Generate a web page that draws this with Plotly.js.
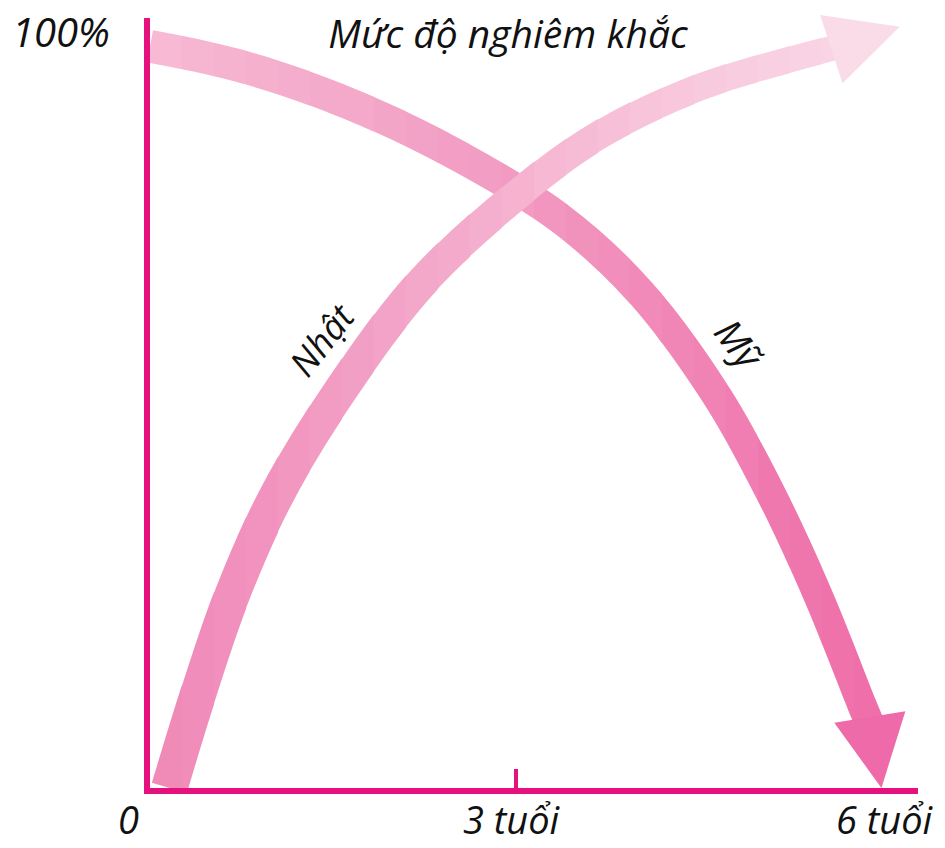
<!DOCTYPE html>
<html>
<head>
<meta charset="utf-8">
<script src="https://cdn.plot.ly/plotly-3.0.1.min.js"></script>
<style>html,body{margin:0;padding:0;background:#fff;}#chart{width:945px;height:848px;}</style>
</head>
<body>
<div id="chart"></div>
<script>
// ---- data ----
const chartTitle = 'Mức độ nghiêm khắc';
const seriesNames = ['Mỹ', 'Nhật'];
// Mỹ (USA): strictness (% of max) vs. child age (years)
const usAges     = [0, 0.74, 1.56, 2.38, 3.36, 4.02, 4.66, 5.11, 5.49, 5.84, 5.92];
const usSeverity = [98.1, 95.5, 91.0, 84.9, 75.4, 65.6, 51.6, 38.4, 25.1, 11.0, 7.9];
const usTip      = [6.0, 0];          // arrow tip (age, %)
// Nhật (Japan)
const jpAges     = [0.16, 0.38, 0.66, 1.02, 1.51, 2.25, 3.16, 3.69, 4.51, 5.33, 5.64];
const jpSeverity = [0, 11.6, 24.9, 38.1, 51.3, 67.2, 80.4, 86.4, 92.7, 96.7, 98.0];
const jpTip      = [6.15, 100.7];
// axis labels
const xTickAges   = [0, 3, 6];
const xTickLabels = ['0', '3 tuổi', '6 tuổi'];
const yTickValue  = 100;
const yTickLabel  = '100%';
// series label anchor points (age, %)
const seriesLabelAge = [4.84, 1.41];
const seriesLabelSev = [58.7, 59.3];

// ---- styling ----
const AXIS = '#e5117f';
const FONT = {family: '"Open Sans", "Noto Sans", sans-serif', size: 36, color: '#111111', style: 'italic'};
const X_MAX = 6.3, Y_MAX = 101.85;
const N_SLICES = 24;           // colour bands along the x axis (gradient)
const usColorStops = [[0,'#f7bad4'],[1.5,'#f4aacb'],[3,'#f29ac2'],[4.5,'#f084b5'],[5.5,'#ef73ac'],[6.3,'#ee6ba8']];
const jpColorStops = [[0,'#f088b6'],[1,'#f194bf'],[2,'#f3a3c7'],[3,'#f5b3d0'],[4,'#f7c3da'],[5,'#f9cfe1'],[6.3,'#fadbe8']];
const usWidthStops = [[0,33],[6.3,29]];
const jpWidthStops = [[0,37],[2,33],[4,28],[6.3,24]];

function hexToRgb(h){h=h.replace('#','');return [0,2,4].map(i=>parseInt(h.substr(i,2),16));}
function interpStops(stops, a, isColor){
  let i=0; while(i<stops.length-2 && a>stops[i+1][0]) i++;
  const [a0,v0]=stops[i],[a1,v1]=stops[i+1];
  const t=Math.max(0,Math.min(1,(a-a0)/(a1-a0)));
  if(!isColor) return v0+(v1-v0)*t;
  const A=hexToRgb(v0),B=hexToRgb(v1);
  return 'rgb('+A.map((v,j)=>Math.round(v+(B[j]-v)*t)).join(',')+')';
}

const traces = [{type:'scatter', x:[], y:[], xaxis:'x', yaxis:'y', hoverinfo:'skip', showlegend:false}];
const layout = {
  width:945, height:848,
  margin:{l:150, r:27, t:18, b:60, pad:0},
  paper_bgcolor:'#ffffff', plot_bgcolor:'rgba(0,0,0,0)',
  showlegend:false,
  title:{text:chartTitle, font:Object.assign({},FONT,{size:39}), x:508/945, xanchor:'center', y:1-34/848, yanchor:'middle', xref:'container', yref:'container'},
  xaxis:{range:[0,X_MAX], showline:true, linecolor:AXIS, linewidth:6, showgrid:false, zeroline:false,
    ticks:'inside', tickvals:[xTickAges[1]], ticklen:19, tickwidth:4, tickcolor:AXIS, showticklabels:false, fixedrange:true},
  yaxis:{range:[0,Y_MAX], showline:true, linecolor:AXIS, linewidth:6, showgrid:false, zeroline:false,
    ticks:'', showticklabels:false, fixedrange:true}
};

// each slice is an invisible x axis covering part of the plot: the full smooth curve is drawn
// in every slice (clipped to it), coloured for that slice -> gradient along the band
for(let k=0;k<N_SLICES;k++){
  const id = k+2;
  const r0 = k*X_MAX/N_SLICES, r1 = (k+1)*X_MAX/N_SLICES, mid=(r0+r1)/2;
  layout['xaxis'+id] = {domain:[k/N_SLICES,(k+1)/N_SLICES], range:[r0,r1], anchor:'y', visible:false, fixedrange:true, showgrid:false, zeroline:false};
  traces.push({type:'scatter', mode:'lines', x:usAges, y:usSeverity, xaxis:'x'+id, yaxis:'y',
    line:{shape:'spline', smoothing:1, color:interpStops(usColorStops,mid,true), width:interpStops(usWidthStops,mid,false)},
    hoverinfo:'skip', showlegend:false});
}
for(let k=0;k<N_SLICES;k++){
  const id = k+2;
  const r0 = k*X_MAX/N_SLICES, r1 = (k+1)*X_MAX/N_SLICES, mid=(r0+r1)/2;
  traces.push({type:'scatter', mode:'lines', x:jpAges, y:jpSeverity, xaxis:'x'+id, yaxis:'y',
    line:{shape:'spline', smoothing:1, color:interpStops(jpColorStops,mid,true), width:interpStops(jpWidthStops,mid,false)},
    hoverinfo:'skip', showlegend:false});
}

const annotations = [];
function head(ages, sev, tip, color){
  annotations.push({
    x: tip[0], y: tip[1], xref:'x', yref:'y',
    ax: ages[ages.length-1], ay: sev[sev.length-1], axref:'x', ayref:'y',
    text:'', showarrow:true, arrowhead:2, arrowwidth:4, arrowsize:3.6,
    arrowcolor: color, standoff: 0
  });
}
head(usAges, usSeverity, usTip, '#ee6aa8');
head(jpAges, jpSeverity, jpTip, '#fadbe8');

// axis labels (y in paper units so they sit below the axis)
const labelFont = Object.assign({},FONT,{size:38});
const labelY = -31/770;
xTickAges.forEach((a,i)=>{
  annotations.push({x:a, y:labelY, xref:'x', yref:'paper', text:xTickLabels[i], showarrow:false,
    xanchor:'center', yanchor:'middle', xshift: i===0 ? -22 : (i===1 ? -4 : 4), font:labelFont});
});
annotations.push({x:-38/768, y:yTickValue, xref:'paper', yref:'y', text:yTickLabel, showarrow:false,
  xanchor:'right', yanchor:'middle', font:Object.assign({},FONT,{size:40})});
// series labels
annotations.push({x:seriesLabelAge[0], y:seriesLabelSev[0], xref:'x', yref:'y', text:seriesNames[0],
  showarrow:false, textangle:52, font:Object.assign({},FONT,{size:38})});
annotations.push({x:seriesLabelAge[1], y:seriesLabelSev[1], xref:'x', yref:'y', text:seriesNames[1],
  showarrow:false, textangle:-52, font:Object.assign({},FONT,{size:36})});
layout.annotations = annotations;

Plotly.newPlot('chart', traces, layout, {displayModeBar:false, staticPlot:true});
</script>
</body>
</html>
